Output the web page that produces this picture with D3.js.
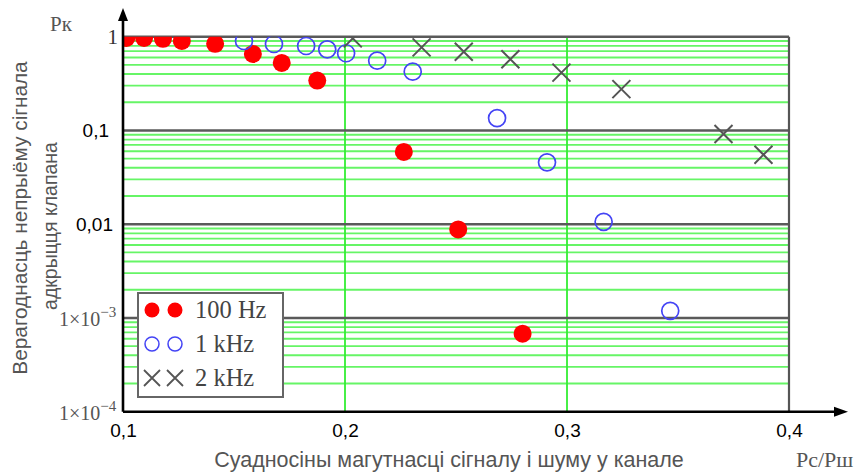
<!DOCTYPE html>
<html>
<head>
<meta charset="utf-8">
<script src="https://cdn.jsdelivr.net/npm/d3@7"></script>
<style>
  body { margin: 0; background: #fff; }
  svg { display: block; }
</style>
</head>
<body>
<div id="chart"></div>
<script>
const width = 857, height = 475;
const margin = ({top: 36.7, right: 68, bottom: 63.3, left: 123});

// 100 Hz
const x100 = [0.1015, 0.1095, 0.118, 0.1265, 0.1415, 0.1585, 0.1715, 0.1875, 0.2265, 0.251, 0.280];
const y100 = [0.97, 0.97, 0.95, 0.9, 0.84, 0.655, 0.525, 0.34, 0.059, 0.0088, 0.00068];
// 1 kHz
const x1k = [0.1545, 0.168, 0.1825, 0.192, 0.2005, 0.2145, 0.2305, 0.2685, 0.291, 0.3165, 0.3465];
const y1k = [0.9, 0.836, 0.796, 0.734, 0.666, 0.555, 0.424, 0.1355, 0.0457, 0.0106, 0.00119];
// 2 kHz
const x2k = [0.2035, 0.2345, 0.2535, 0.2745, 0.2975, 0.3245, 0.3705, 0.3885];
const y2k = [0.96, 0.77, 0.69, 0.575, 0.414, 0.276, 0.0916, 0.0551];

const xTicks = [0.1, 0.2, 0.3, 0.4];
const xTickLabels = ["0,1", "0,2", "0,3", "0,4"];
const decades = [1, 0.1, 0.01, 0.001, 0.0001];
const legendNames = ["100 Hz", "1 kHz", "2 kHz"];

const xTitle = "Суадносіны магутнасці сігналу і шуму у канале";
const yTitle = ["Верагоднасць непрыёму сігнала", "адкрыцця клапана"];

const x = d3.scaleLinear().domain([0.1, 0.4]).range([margin.left, width - margin.right]);
const y = d3.scaleLog().domain([1e-4, 1]).range([height - margin.bottom, margin.top]);

const svg = d3.select("#chart").append("svg")
    .attr("width", width)
    .attr("height", height);

svg.append("clipPath").attr("id", "plot-clip")
  .append("rect")
    .attr("x", x(0.1)).attr("y", y(1))
    .attr("width", x(0.4) - x(0.1)).attr("height", y(1e-4) - y(1));

// minor green grid
const minor = [];
for (let k = -4; k < 0; k++) {
  for (let m = 2; m <= 9; m++) minor.push(m * Math.pow(10, k));
}
svg.append("g")
  .selectAll("line")
  .data(minor)
  .join("line")
    .attr("x1", x(0.1)).attr("x2", x(0.4))
    .attr("y1", d => y(d)).attr("y2", d => y(d))
    .attr("stroke", "#66f566")
    .attr("stroke-width", 1.8);

svg.append("g")
  .selectAll("line")
  .data([0.2, 0.3])
  .join("line")
    .attr("x1", d => x(d)).attr("x2", d => x(d))
    .attr("y1", y(1)).attr("y2", y(1e-4))
    .attr("stroke", "#33ee33")
    .attr("stroke-width", 1.8);

// decade lines
svg.append("g")
  .selectAll("line")
  .data(decades.slice(0, 4))
  .join("line")
    .attr("x1", x(0.1)).attr("x2", x(0.4))
    .attr("y1", d => y(d)).attr("y2", d => y(d))
    .attr("stroke", "#5a5a5a")
    .attr("stroke-width", 2.4);

svg.append("line")
    .attr("x1", x(0.4)).attr("x2", x(0.4))
    .attr("y1", y(1)).attr("y2", y(1e-4))
    .attr("stroke", "#555")
    .attr("stroke-width", 2.2);

// markers
const marks = svg.append("g").attr("clip-path", "url(#plot-clip)");

marks.selectAll("circle.r")
  .data(d3.zip(x100, y100))
  .join("circle")
    .attr("class", "r")
    .attr("cx", d => x(d[0])).attr("cy", d => y(d[1]))
    .attr("r", 9)
    .attr("fill", "#ff0000");

marks.selectAll("circle.b")
  .data(d3.zip(x1k, y1k))
  .join("circle")
    .attr("class", "b")
    .attr("cx", d => x(d[0])).attr("cy", d => y(d[1]))
    .attr("r", 8.5)
    .attr("fill", "none")
    .attr("stroke", "#4444f5")
    .attr("stroke-width", 1.7);

const cross = s => `M${-s},${-s}L${s},${s}M${-s},${s}L${s},${-s}`;
marks.selectAll("path.x")
  .data(d3.zip(x2k, y2k))
  .join("path")
    .attr("class", "x")
    .attr("transform", d => `translate(${x(d[0])},${y(d[1])})`)
    .attr("d", cross(9))
    .attr("stroke", "#555")
    .attr("stroke-width", 2);

// axes with arrows
const axisG = svg.append("g").attr("stroke", "#000").attr("stroke-width", 2.6);
axisG.append("line")
    .attr("x1", x(0.1)).attr("x2", x(0.1))
    .attr("y1", y(1e-4)).attr("y2", 18);
axisG.append("line")
    .attr("x1", x(0.1)).attr("x2", 836)
    .attr("y1", y(1e-4)).attr("y2", y(1e-4));
svg.append("path")
    .attr("d", `M${x(0.1)},8L${x(0.1) - 5},21L${x(0.1) + 5},21Z`)
    .attr("fill", "#000");
svg.append("path")
    .attr("d", `M848,${y(1e-4)}L834,${y(1e-4) - 5}L834,${y(1e-4) + 5}Z`)
    .attr("fill", "#000");

// x tick labels
svg.append("g")
    .attr("transform", `translate(0, ${y(1e-4)})`)
    .call(d3.axisBottom(x).tickValues(xTicks).tickFormat((d, i) => xTickLabels[i]).tickSize(0).tickPadding(12))
    .call(g => g.select(".domain").remove())
    .call(g => g.selectAll("text")
        .attr("font-family", "Liberation Sans, Arial, sans-serif")
        .attr("font-size", 19)
        .attr("fill", "#000"));

// y tick labels
const serif = "Liberation Serif, Times New Roman, serif";
const sans = "Liberation Sans, Arial, sans-serif";
svg.append("text")
    .attr("x", 118).attr("y", y(1) + 7)
    .attr("text-anchor", "end")
    .attr("font-family", serif).attr("font-size", 21).attr("fill", "#333")
    .text("1");
svg.append("text")
    .attr("x", 109).attr("y", y(0.1) + 7)
    .attr("text-anchor", "end")
    .attr("font-family", sans).attr("font-size", 19).attr("fill", "#000")
    .text("0,1");
svg.append("text")
    .attr("x", 113).attr("y", y(0.01) + 7)
    .attr("text-anchor", "end")
    .attr("font-family", sans).attr("font-size", 19).attr("fill", "#000")
    .text("0,01");
[[0.001, "−3"], [0.0001, "−4"]].forEach(([v, e]) => {
  const t = svg.append("text")
      .attr("x", 59).attr("y", y(v) + 8)
      .attr("font-family", serif).attr("font-size", 20).attr("fill", "#555");
  t.append("tspan").text("1×10");
  t.append("tspan").attr("dy", -9).attr("font-size", 15).text(e);
});

// axis titles
svg.append("text")
    .attr("x", 50).attr("y", 31)
    .attr("font-family", serif).attr("font-size", 21).attr("fill", "#555")
    .text("Рк");
svg.append("text")
    .attr("x", 796).attr("y", 467)
    .attr("font-family", serif).attr("font-size", 22).attr("fill", "#555")
    .text("Рс/Рш");
svg.append("text")
    .attr("x", 449).attr("y", 467)
    .attr("text-anchor", "middle")
    .attr("font-family", sans).attr("font-size", 21.5).attr("fill", "#555")
    .text(xTitle);
const yTitlePos = [{tx: 27, cy: 218, fs: 20.8}, {tx: 57, cy: 226, fs: 19.5}];
yTitle.forEach((t, i) => {
  svg.append("text")
      .attr("transform", `translate(${yTitlePos[i].tx}, ${yTitlePos[i].cy}) rotate(-90)`)
      .attr("text-anchor", "middle")
      .attr("font-family", sans).attr("font-size", yTitlePos[i].fs).attr("fill", "#555")
      .text(t);
});

// legend
const legend = svg.append("g");
legend.append("rect")
    .attr("x", 138).attr("y", 293)
    .attr("width", 145).attr("height", 104)
    .attr("fill", "#fff")
    .attr("stroke", "#666")
    .attr("stroke-width", 2);
const rowY = d3.scalePoint().domain(legendNames).range([310, 378]);
const symX = [152, 175];
symX.forEach(sx => {
  legend.append("circle")
      .attr("cx", sx).attr("cy", rowY(legendNames[0])).attr("r", 7.5)
      .attr("fill", "#ff0000");
  legend.append("circle")
      .attr("cx", sx).attr("cy", rowY(legendNames[1])).attr("r", 7)
      .attr("fill", "none").attr("stroke", "#4444f5").attr("stroke-width", 1.5);
  legend.append("path")
      .attr("transform", `translate(${sx},${rowY(legendNames[2])})`)
      .attr("d", cross(8))
      .attr("stroke", "#555").attr("stroke-width", 1.8);
});
legend.selectAll("text")
  .data(legendNames)
  .join("text")
    .attr("x", 195)
    .attr("y", d => rowY(d) + 8)
    .attr("font-family", serif).attr("font-size", 24.5).attr("fill", "#444")
    .text(d => d);
</script>
</body>
</html>
